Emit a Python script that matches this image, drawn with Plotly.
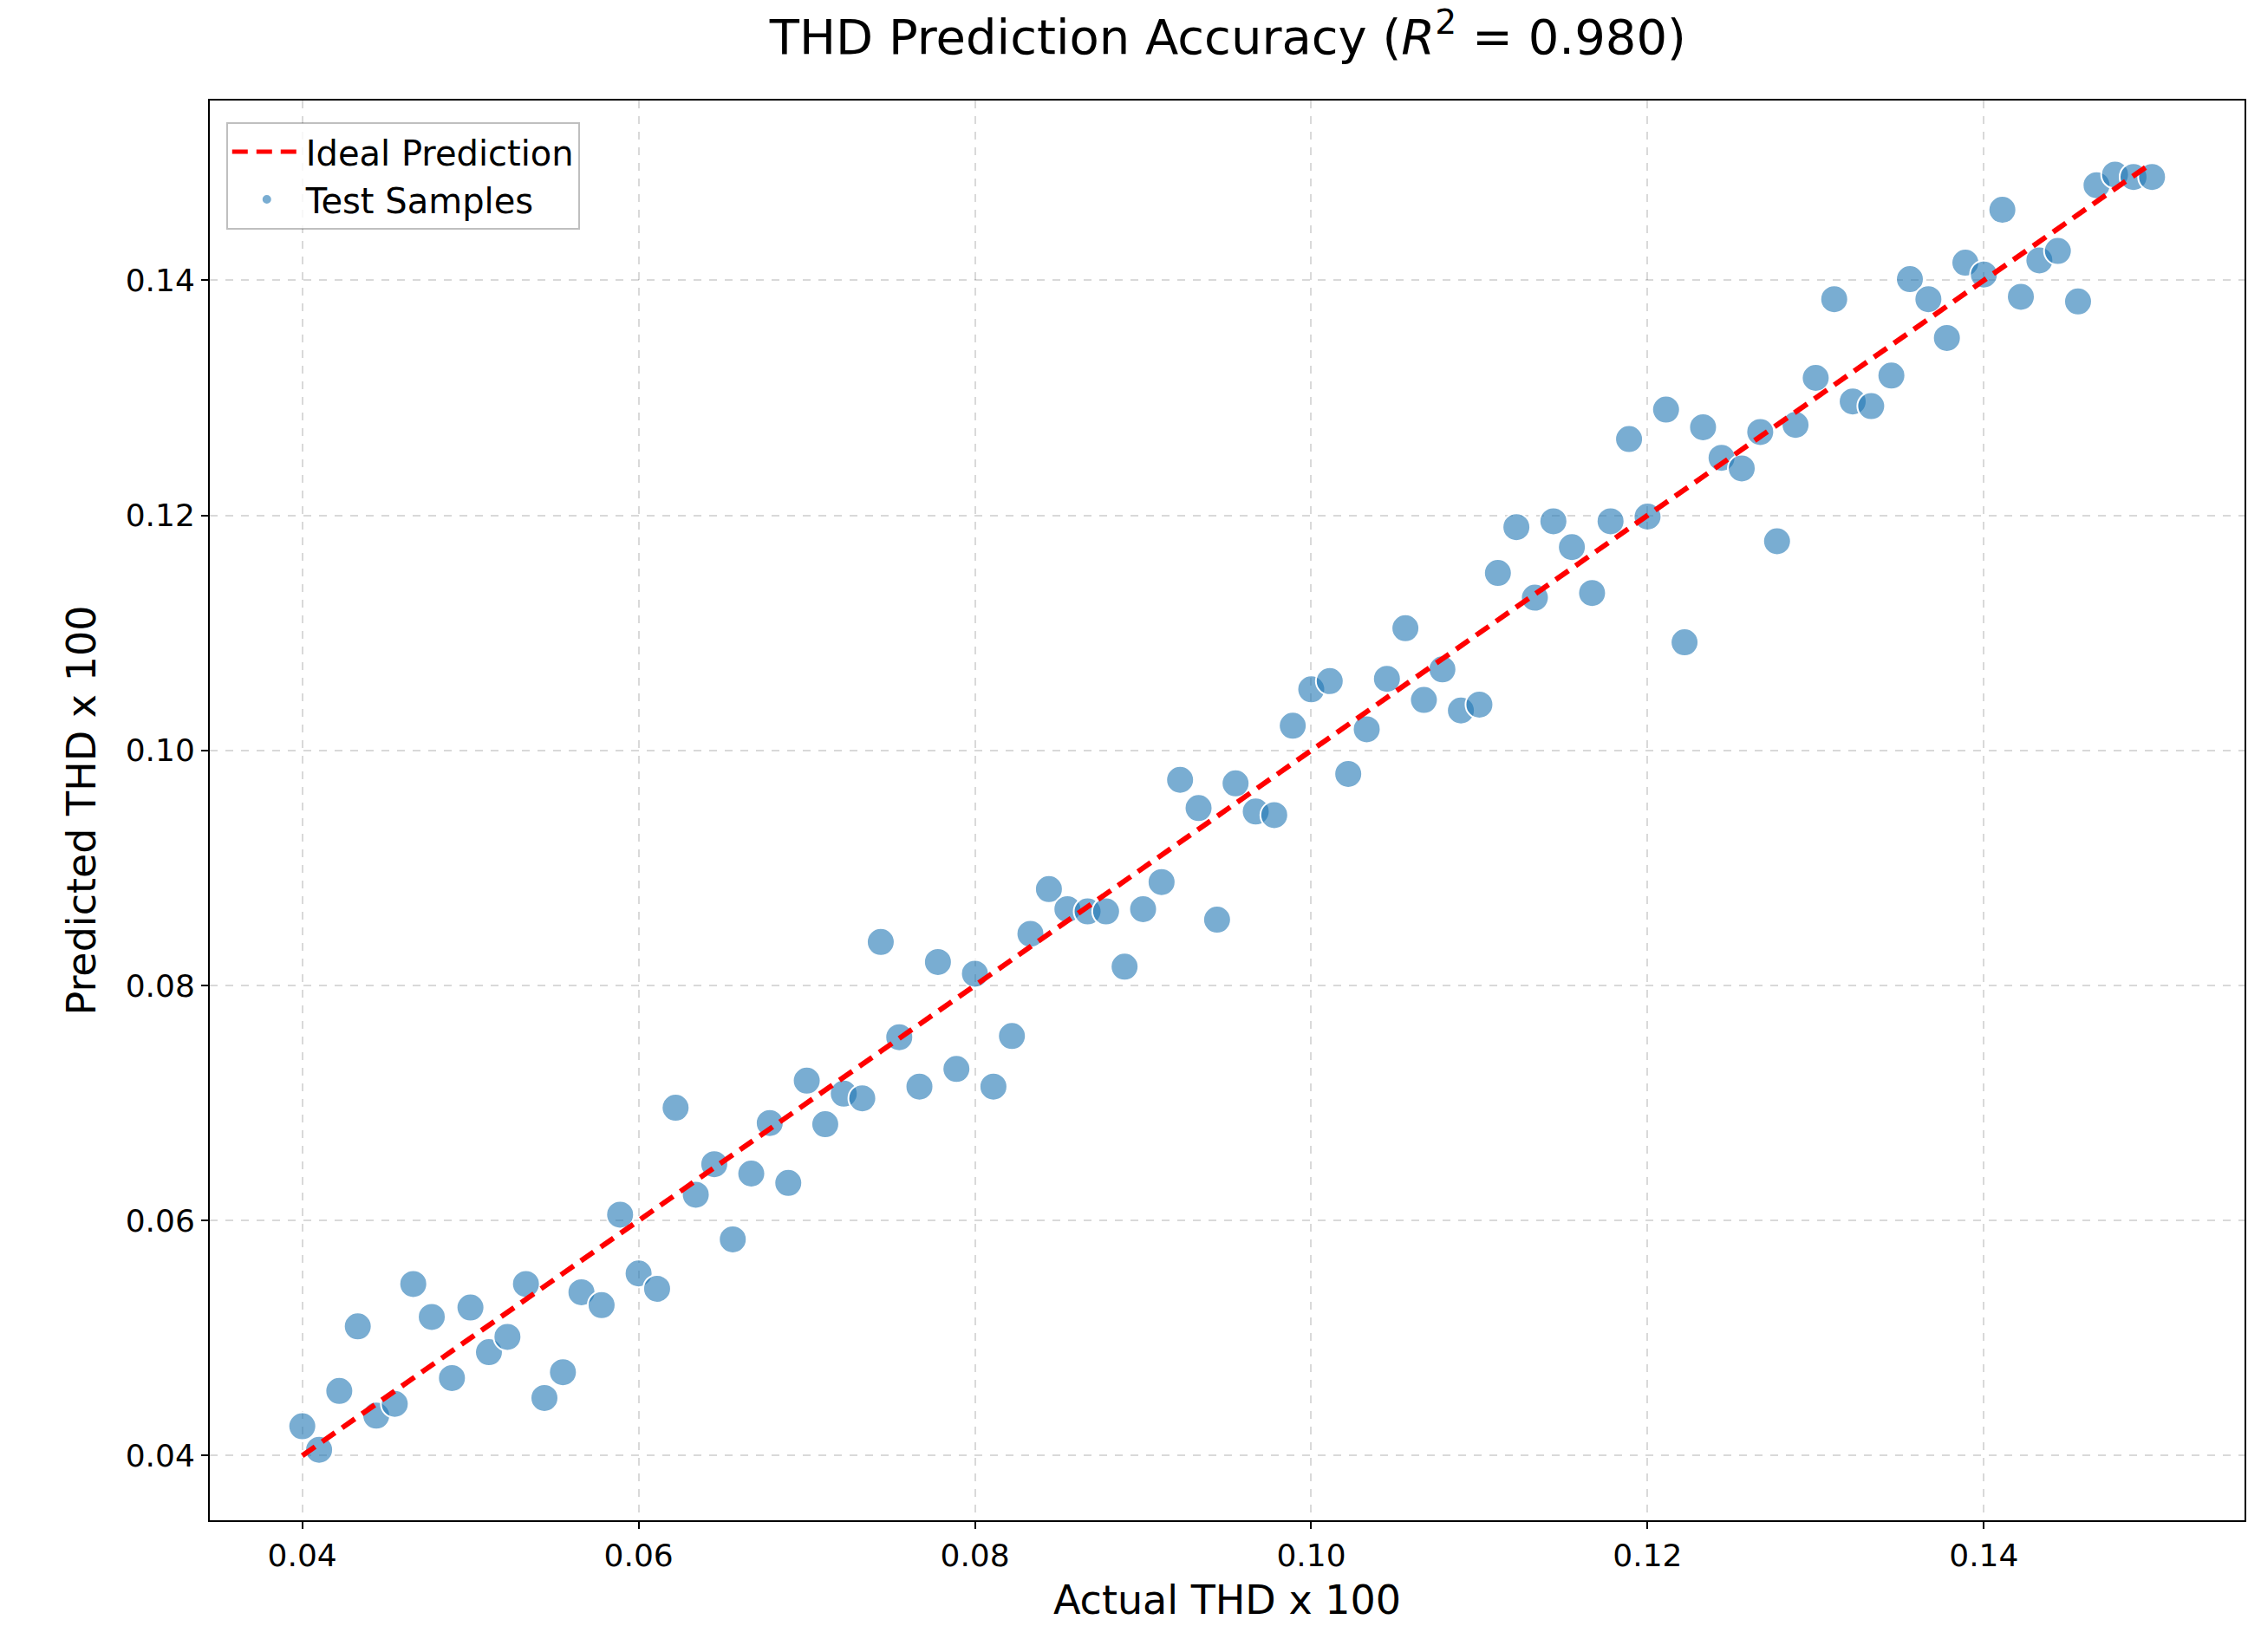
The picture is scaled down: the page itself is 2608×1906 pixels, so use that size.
import plotly.graph_objects as go

actual_thd = [0.0400, 0.0410, 0.0422, 0.0433, 0.0444, 0.0455, 0.0466, 0.0477, 0.0489, 0.0500,
              0.0511, 0.0522, 0.0533, 0.0544, 0.0555, 0.0566, 0.0578, 0.0589, 0.0600, 0.0611,
              0.0622, 0.0634, 0.0645, 0.0656, 0.0667, 0.0678, 0.0689, 0.0700, 0.0711, 0.0722,
              0.0733, 0.0744, 0.0755, 0.0767, 0.0778, 0.0789, 0.0800, 0.0811, 0.0822, 0.0833,
              0.0844, 0.0855, 0.0867, 0.0878, 0.0889, 0.0900, 0.0911, 0.0922, 0.0933, 0.0944,
              0.0955, 0.0967, 0.0978, 0.0989, 0.1000, 0.1011, 0.1022, 0.1033, 0.1045, 0.1056,
              0.1067, 0.1078, 0.1089, 0.1100, 0.1111, 0.1122, 0.1133, 0.1144, 0.1155, 0.1167,
              0.1178, 0.1189, 0.1200, 0.1211, 0.1222, 0.1233, 0.1244, 0.1256, 0.1267, 0.1277,
              0.1288, 0.1300, 0.1311, 0.1322, 0.1333, 0.1345, 0.1356, 0.1367, 0.1378, 0.1389,
              0.1400, 0.1411, 0.1422, 0.1433, 0.1444, 0.1456, 0.1467, 0.1478, 0.1489, 0.1500]

predicted_thd = [0.0425, 0.0405, 0.0455, 0.0510, 0.0434, 0.0444, 0.0546, 0.0518, 0.0466, 0.0526,
                 0.0488, 0.0501, 0.0546, 0.0449, 0.0471, 0.0539, 0.0528, 0.0605, 0.0555, 0.0542,
                 0.0696, 0.0622, 0.0648, 0.0584, 0.0640, 0.0683, 0.0632, 0.0719, 0.0682, 0.0708,
                 0.0704, 0.0837, 0.0756, 0.0714, 0.0820, 0.0729, 0.0810, 0.0714, 0.0757, 0.0844,
                 0.0882, 0.0865, 0.0863, 0.0863, 0.0816, 0.0865, 0.0888, 0.0975, 0.0951, 0.0856,
                 0.0972, 0.0948, 0.0945, 0.1021, 0.1052, 0.1059, 0.0980, 0.1018, 0.1061, 0.1104,
                 0.1043, 0.1069, 0.1034, 0.1039, 0.1151, 0.1190, 0.1130, 0.1195, 0.1173, 0.1134,
                 0.1195, 0.1265, 0.1199, 0.1290, 0.1092, 0.1275, 0.1249, 0.1240, 0.1271, 0.1178,
                 0.1277, 0.1317, 0.1384, 0.1297, 0.1293, 0.1319, 0.1401, 0.1384, 0.1351, 0.1415,
                 0.1405, 0.1460, 0.1386, 0.1417, 0.1425, 0.1382, 0.1481, 0.1490, 0.1488, 0.1488]

ideal = [0.04, 0.15]
x_ticks = [0.04, 0.06, 0.08, 0.10, 0.12, 0.14]

font = "DejaVu Sans"
fig = go.Figure()

# points first so the dashed line sits on top, as in the original
fig.add_trace(go.Scatter(
    x=actual_thd, y=predicted_thd, mode="markers", name="Test Samples", legendrank=2,
    marker=dict(size=32, color="rgba(31,119,180,0.6)", line=dict(color="white", width=2)),
))
fig.add_trace(go.Scatter(
    x=ideal, y=ideal, mode="lines", name="Ideal Prediction", legendrank=1,
    line=dict(color="red", dash="18px,10px", width=6),
))

axis_common = dict(
    showline=True, linecolor="black", linewidth=2, mirror=True,
    ticks="outside", ticklen=8, tickwidth=2, tickcolor="black",
    showgrid=True, gridcolor="rgba(0,0,0,0.15)", griddash="dash", gridwidth=2,
    zeroline=False, tickfont=dict(size=36, color="black"),
    tickvals=x_ticks, ticktext=[f"{v:.2f}" for v in x_ticks],
)

fig.update_layout(
    width=2608, height=1906,
    paper_bgcolor="white", plot_bgcolor="white",
    font=dict(family=font, color="black"),
    margin=dict(l=234, r=27, t=108, b=160),
    title=dict(text="THD Prediction Accuracy (<i>R</i><sup>2</sup> = 0.980)",
               x=0.54, xanchor="center", y=0.992, yanchor="top",
               font=dict(size=56)),
    xaxis=dict(axis_common, range=[0.0345, 0.1555],
               title=dict(text="Actual THD x 100", font=dict(size=46), standoff=16)),
    yaxis=dict(axis_common, range=[0.0345, 0.1553],
               title=dict(text="Predicted THD x 100", font=dict(size=46), standoff=20)),
    legend=dict(x=0.008, y=0.985, xanchor="left", yanchor="top",
                bordercolor="rgba(0,0,0,0.25)", borderwidth=2, itemsizing="constant",
                itemwidth=80, bgcolor="rgba(255,255,255,0.8)", font=dict(size=40),
                tracegroupgap=10),
)

fig.write_html("out.html")
